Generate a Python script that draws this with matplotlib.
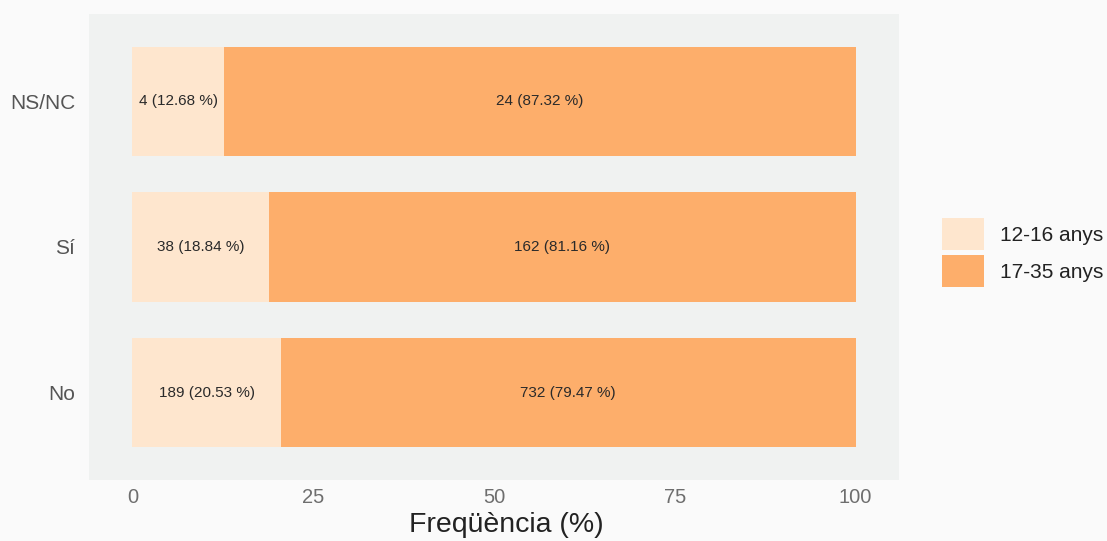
import matplotlib.pyplot as plt
from matplotlib.patches import Patch

plt.rcParams['font.family'] = ['Liberation Sans', 'DejaVu Sans']

categories = ['No', 'Sí', 'NS/NC']
group_labels = ['12-16 anys', '17-35 anys']
counts_young = [189, 38, 4]
counts_old = [732, 162, 24]
pct_young = [20.53, 18.84, 12.68]
pct_old = [79.47, 81.16, 87.32]
colors = ['#fee6ce', '#fdae6b']

fig = plt.figure(figsize=(11.07, 5.41), dpi=100, facecolor='#fafafa')
ax = fig.add_axes([89 / 1107, 1 - 480 / 541, 810 / 1107, 466 / 541])
ax.set_facecolor('#f0f2f1')

ypos = list(range(len(categories)))
ax.barh(ypos, pct_young, height=0.75, color=colors[0], linewidth=0)
ax.barh(ypos, pct_old, left=pct_young, height=0.75, color=colors[1], linewidth=0)

for i in ypos:
    ax.text(pct_young[i] / 2, i, f'{counts_young[i]} ({pct_young[i]:.2f} %)',
            ha='center', va='center', fontsize=11, color='#2a2a2a')
    ax.text(pct_young[i] + pct_old[i] / 2, i, f'{counts_old[i]} ({pct_old[i]:.2f} %)',
            ha='center', va='center', fontsize=11, color='#2a2a2a')

ax.set_xlim(-6, 106)
ax.set_ylim(-0.6, 2.6)
ax.set_xticks([0, 25, 50, 75, 100])
ax.set_yticks(ypos)
ax.set_yticklabels(categories)
ax.tick_params(axis='x', length=0, pad=5.5, labelsize=14.5, labelcolor='#6e6e6e')
ax.tick_params(axis='y', length=0, pad=10, labelsize=15, labelcolor='#555555')
for s in ax.spines.values():
    s.set_visible(False)
ax.set_xlabel('Freqüència (%)', fontsize=20.5, color='#222222')
ax.xaxis.set_label_coords(0.515, -0.068, transform=ax.transAxes)

handles = [Patch(facecolor=c, edgecolor='none') for c in colors]
fig.legend(handles, group_labels, loc='center left', bbox_to_anchor=(942 / 1107, 0.533),
           frameon=False, fontsize=15, handlelength=2.0, handleheight=2.0,
           handletextpad=0.8, labelspacing=0.24, borderpad=0, borderaxespad=0,
           labelcolor='#222222')

fig.savefig('out.png', dpi=100, facecolor=fig.get_facecolor())
